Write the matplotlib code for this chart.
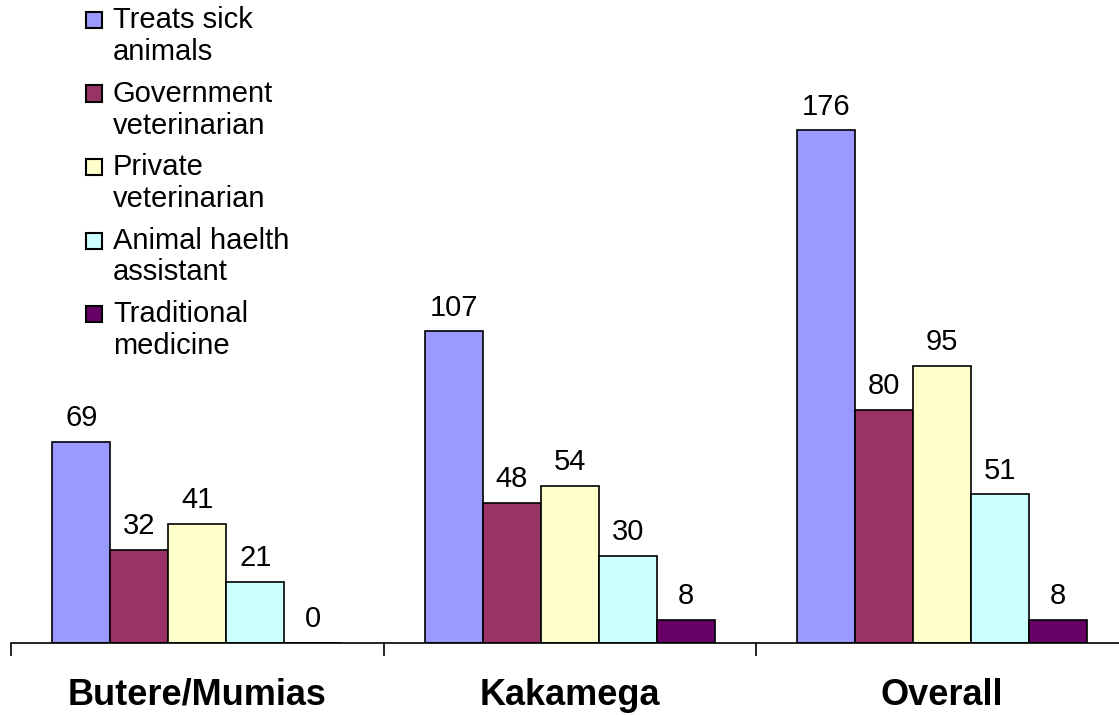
import matplotlib
matplotlib.use("Agg")
import matplotlib.pyplot as plt
from matplotlib.patches import Rectangle
import numpy as np

plt.rcParams['font.family'] = ['Liberation Sans', 'DejaVu Sans']

# Dados
regioes = ["Butere/Mumias", "Kakamega", "Overall"]
series = ["Treats sick\nanimals", "Government\nveterinarian", "Private\nveterinarian",
          "Animal haelth\nassistant", "Traditional\nmedicine"]
valores = [
    [69, 107, 176],   # Treats sick animals
    [32, 48, 80],     # Government veterinarian
    [41, 54, 95],     # Private veterinarian
    [21, 30, 51],     # Animal haelth assistant
    [0, 8, 8],        # Traditional medicine
]
cores = ['#9999FF', '#993366', '#FFFFCC', '#CCFFFF', '#660066']

W, H = 1119, 715
fig = plt.figure(figsize=(W / 100, H / 100), dpi=100)
ax = fig.add_axes([11 / W, 72 / H, 1117.5 / W, 643 / H])

x = np.arange(len(regioes))
larg = 0.1557
for j, (serie, vals) in enumerate(zip(series, valores)):
    pos = x + (j - 2) * larg
    ax.bar(pos, vals, larg, color=cores[j], edgecolor='black', linewidth=1.2,
           label=serie.replace("\n", " "))
    for px, v in zip(pos, vals):
        ax.annotate(str(v), (px, v), xytext=(0, 7), textcoords='offset points',
                    ha='center', va='bottom', fontsize=21)

ax.set_xlim(-0.5, 2.5)
ax.set_ylim(0, 220.7)
for s in ['left', 'right', 'top']:
    ax.spines[s].set_visible(False)
ax.spines['bottom'].set_linewidth(1.2)
ax.set_yticks([])

# Marcas nos limites das categorias, rótulos no centro
ax.set_xticks([-0.5, 0.5, 1.5, 2.5])
ax.set_xticklabels([])
ax.tick_params(axis='x', which='major', direction='out', length=9, width=1.2)
ax.set_xticks(x, regioes, minor=True)
ax.tick_params(axis='x', which='minor', length=0, pad=25, labelsize=26)
for lbl in ax.get_xticklabels(minor=True):
    lbl.set_fontweight('bold')

# Legenda (quadrado alinhado com a primeira linha)
for i, (serie, cor) in enumerate(zip(series, cores)):
    base = 28 + 73.5 * i
    fig.patches.append(Rectangle((86 / W, 1 - base / H), 16 / W, 16 / H,
                                 transform=fig.transFigure, facecolor=cor,
                                 edgecolor='black', linewidth=1.5))
    for k, linha in enumerate(serie.split("\n")):
        fig.text(113 / W, 1 - (base + 32 * k) / H, linha, fontsize=21,
                 ha='left', va='baseline')

fig.savefig("out.png", dpi=100)
